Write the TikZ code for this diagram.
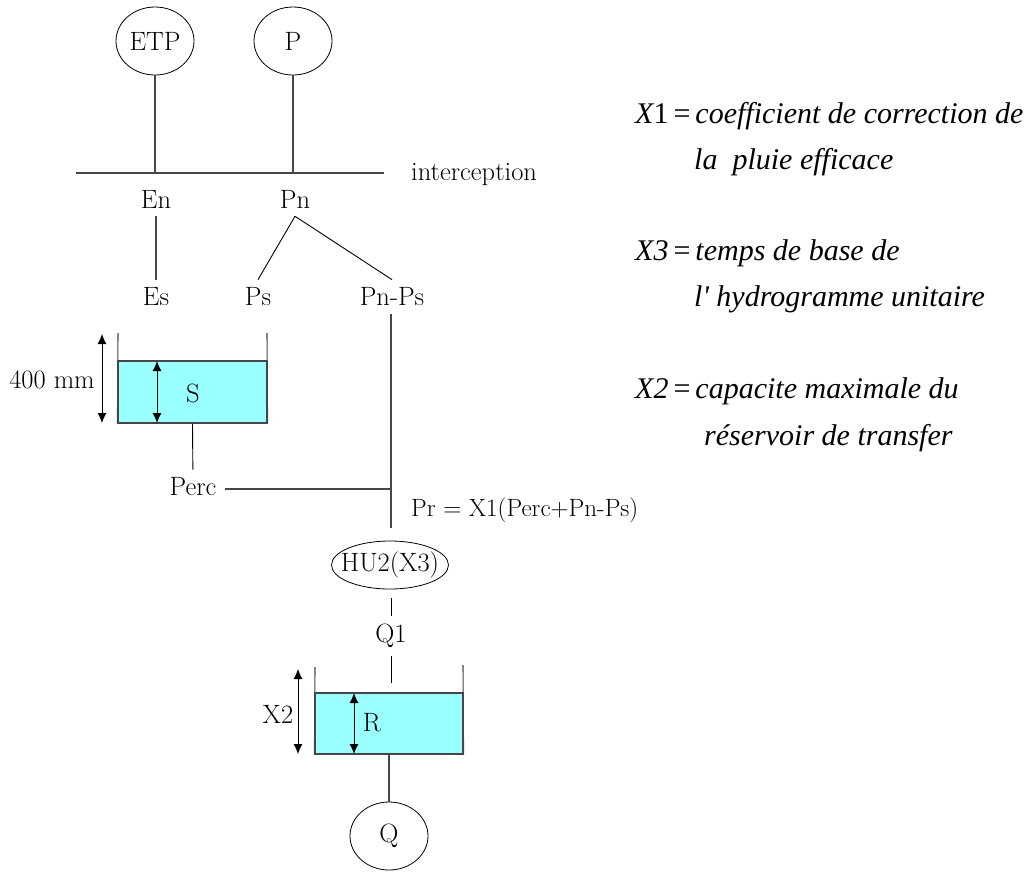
\documentclass[tikz,border=0pt]{standalone}
\usepackage{fontspec}
\newfontfamily\tnrit{Liberation Serif Italic}
\newfontfamily\tnrup{Liberation Serif}
\usetikzlibrary{shapes.geometric,arrows.meta}
\definecolor{waterc}{RGB}{153,255,255}
\definecolor{linec}{RGB}{70,70,70}
\begin{document}
\begin{tikzpicture}[x=1pt,y=-1pt,
  lbl/.style={font=\fontsize{26.5}{30}\selectfont, inner sep=8pt},
  bubble/.style={draw, ellipse, line width=0.8pt, minimum width=78pt, minimum height=68pt, inner sep=0pt, font=\fontsize{26.5}{30}\selectfont},
  conn/.style={draw=linec, line width=1.1pt},
  dimarrow/.style={{Latex[length=10pt,width=9pt]}-{Latex[length=10pt,width=9pt]}, line width=0.9pt},
  wall/.style={draw=linec, line width=1.1pt},
  water/.style={fill=waterc, draw=linec, line width=1.1pt, inner sep=0pt},
  rtext/.style={anchor=base west, inner sep=0pt, font=\tnrit\fontsize{30}{34}\selectfont}]
\useasboundingbox (0,0) rectangle (1036,871);

% top inputs
\node[bubble] (ETP) at (155,41) {ETP};
\node[bubble] (P) at (293,41) {P};
\coordinate (iL) at (76,173);
\coordinate (iR) at (384,173);
\coordinate (iE) at (155,173);
\coordinate (iP) at (293,173);
\draw[conn] (iL) -- (iR);
\draw[conn] (ETP) -- (iE);
\draw[conn] (P) -- (iP);
\node[lbl, anchor=west] (interc) at (403,175) {interception};

% split
\node[lbl] (En) at (156,199) {En};
\node[lbl] (Pn) at (295,199) {Pn};
\node[lbl] (Es) at (156,297) {Es};
\node[lbl] (Ps) at (258,297) {Ps};
\node[lbl] (PnPs) at (392,297) {Pn-Ps};
\draw[conn] (En) -- (Es);
\draw[black, line width=0.9pt] (Pn.south) -- (Ps.north);
\draw[black, line width=0.9pt] (Pn.south) -- (PnPs.north);

% reservoir S
\node[water, minimum width=149pt, minimum height=62pt] (Sbox) at (192.5,392) {};
\node[lbl] (Slbl) at (193,393) {S};
\draw[wall] (118,333) -- (Sbox.south west);
\draw[wall] (267,333) -- (Sbox.south east);
\draw[dimarrow] (102,334) -- (102,423);
\draw[dimarrow] (157,361) -- (157,423);
\node[lbl] (mm) at (52,380) {400 mm};
\node[lbl] (Perc) at (193,487) {Perc};
\draw[black, line width=0.9pt] (Sbox.south) -- (Perc);

% production channel
\coordinate (join) at (391,489);
\node[draw, ellipse, line width=0.8pt, minimum width=117pt, minimum height=48pt, inner sep=-10pt, font=\fontsize{26.5}{30}\selectfont] (HU) at (390,565) {HU2(X3)};
\draw[conn] (PnPs.south -| join) -- ([yshift=13pt]HU.north -| join);
\draw[conn] (Perc.east |- join) -- (join);
\node[lbl, anchor=west, font=\fontsize{25}{30}\selectfont] (Pr) at (403,510) {Pr = X1(Perc+Pn-Ps)};

% routing
\node[lbl] (Q1) at (391,636) {Q1};
\draw[black, line width=0.9pt] ([yshift=-9pt]HU.south -| Q1) -- (Q1);
\node[water, minimum width=148pt, minimum height=61pt] (Rbox) at (389,723.5) {};
\coordinate (rin) at (391,683);
\draw[black, line width=0.9pt] (Q1) -- (rin);
\draw[wall] (315,667) -- (Rbox.south west);
\draw[wall] (463,665) -- (Rbox.south east);
\draw[dimarrow] (298,669) -- (298,754);
\draw[dimarrow] (354,693) -- (354,754);
\node[lbl] (X2) at (278,714) {X2};
\node[lbl] (Rlbl) at (372,723) {R};
\node[bubble] (Q) at (389,836) {Q};
\draw[conn] (Rbox.south) -- (Q);

% legend
\node[rtext] (l1) at (635,123) {X{\tnrup 1\,=\,}coefficient de correction de};
\node[rtext] (l2) at (694,169) {la\ \ pluie efficace};
\node[rtext] (l3) at (635,260) {X3{\tnrup\,=\,}temps de base de};
\node[rtext] (l4) at (694,306) {l' hydrogramme unitaire};
\node[rtext] (l5) at (635,398) {X2{\tnrup\,=\,}capacite maximale du};
\node[rtext] (l6) at (704,445) {réservoir de transfer};
\end{tikzpicture}
\end{document}
